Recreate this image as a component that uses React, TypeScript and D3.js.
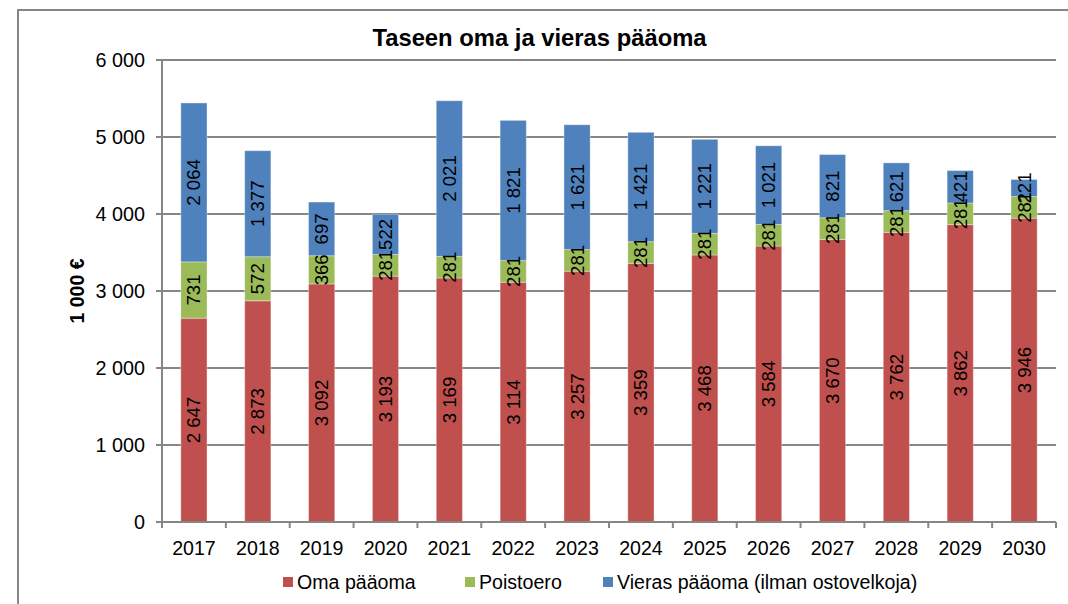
import React from "react";
import * as d3 from "d3";

const years = ["2017","2018","2019","2020","2021","2022","2023","2024","2025","2026","2027","2028","2029","2030"];
const omaPaaoma = [2647, 2873, 3092, 3193, 3169, 3114, 3257, 3359, 3468, 3584, 3670, 3762, 3862, 3946];
const poistoero = [731, 572, 366, 281, 281, 281, 281, 281, 281, 281, 281, 281, 281, 281];
const vierasPaaoma = [2064, 1377, 697, 522, 2021, 1821, 1621, 1421, 1221, 1021, 821, 621, 421, 221];
const yTicks = [0, 1000, 2000, 3000, 4000, 5000, 6000];
const seriesNames = ["Oma pääoma", "Poistoero", "Vieras pääoma (ilman ostovelkoja)"];
const seriesColors = ["#C0504D", "#9BBB59", "#4F81BD"];

const W = 1068, H = 604;
const FONT = "'Liberation Sans', Arial, sans-serif";

export default function App() {
  const left = 162, right = 1056, top = 60, bottom = 522;
  const x = d3.scaleBand<string>().domain(years).range([left, right]).paddingInner(0.59).paddingOuter(0.295);
  const y = d3.scaleLinear().domain([0, 6000]).range([bottom, top]);
  const fmt = d3.formatLocale({ thousands: "\u00a0", grouping: [3], decimal: ",", currency: ["", ""] }).format(",d");
  const rows = years.map((yr, i) => ({ yr, v: [omaPaaoma[i], poistoero[i], vierasPaaoma[i]] }));
  const stacked = rows.map((r) => {
    let acc = 0;
    return r.v.map((v, s) => {
      const y0 = acc; acc += v;
      return { yr: r.yr, s, v, y0, y1: acc };
    });
  });
  const step = (right - left) / years.length;
  const boundaries = d3.range(years.length + 1).map((i) => left + i * step);
  const legendX = [283, 465, 603];
  const grid = "#868686";

  return (
    <svg width={W} height={H} style={{ position: "absolute", left: 0, top: 0, background: "#fff" }} fontFamily={FONT}>
      <rect x={0} y={0} width={W} height={H} fill="#fff" />
      <rect x={18} y={10} width={W + 20} height={H + 20} fill="none" stroke={grid} strokeWidth={2} />
      <text x={539.5} y={46} textAnchor="middle" fontSize={23.8} fontWeight="bold" fill="#000">Taseen oma ja vieras pääoma</text>
      {yTicks.map((t) => (
        <g key={t}>
          {t > 0 && <line x1={left - 6} x2={right} y1={y(t)} y2={y(t)} stroke={grid} strokeWidth={2} />}
          {t === 0 && <line x1={left - 6} x2={left} y1={y(t)} y2={y(t)} stroke={grid} strokeWidth={2} />}
          <text x={145} y={y(t)} dy="0.35em" textAnchor="end" fontSize={19.8} fill="#000">{fmt(t)}</text>
        </g>
      ))}
      <text transform={`translate(84,${291}) rotate(-90)`} textAnchor="middle" fontSize={19.5} fontWeight="bold" fill="#000">1 000 €</text>
      {stacked.map((segs) =>
        segs.map((d) => (
          <rect key={d.yr + d.s} x={x(d.yr)} width={x.bandwidth()} y={y(d.y1)} height={y(d.y0) - y(d.y1)}
            fill={seriesColors[d.s]} stroke="rgba(255,255,255,0.35)" strokeWidth={1} />
        ))
      )}
      <line x1={left} x2={left} y1={top} y2={bottom} stroke={grid} strokeWidth={2} />
      <line x1={left} x2={right} y1={bottom} y2={bottom} stroke={grid} strokeWidth={2} />
      {boundaries.map((b, i) => (
        <line key={i} x1={b} x2={b} y1={bottom} y2={bottom + 6} stroke={grid} strokeWidth={2} />
      ))}
      {stacked.map((segs) =>
        segs.map((d) => {
          const cx = (x(d.yr) as number) + x.bandwidth() / 2;
          const cy = (y(d.y0) + y(d.y1)) / 2;
          return (
            <text key={"l" + d.yr + d.s} transform={`translate(${cx},${cy}) rotate(-90)`} textAnchor="middle" dy="0.35em" fontSize={18.6} fill="#000">{fmt(d.v)}</text>
          );
        })
      )}
      {years.map((yr) => (
        <text key={yr} x={(x(yr) as number) + x.bandwidth() / 2} y={555} textAnchor="middle" fontSize={19.6} fill="#000">{yr}</text>
      ))}
      {seriesNames.map((n, i) => (
        <g key={n}>
          <rect x={legendX[i]} y={577} width={10} height={10} fill={seriesColors[i]} />
          <text x={legendX[i] + 14} y={589} fontSize={19.6} fill="#000">{n}</text>
        </g>
      ))}
    </svg>
  );
}
